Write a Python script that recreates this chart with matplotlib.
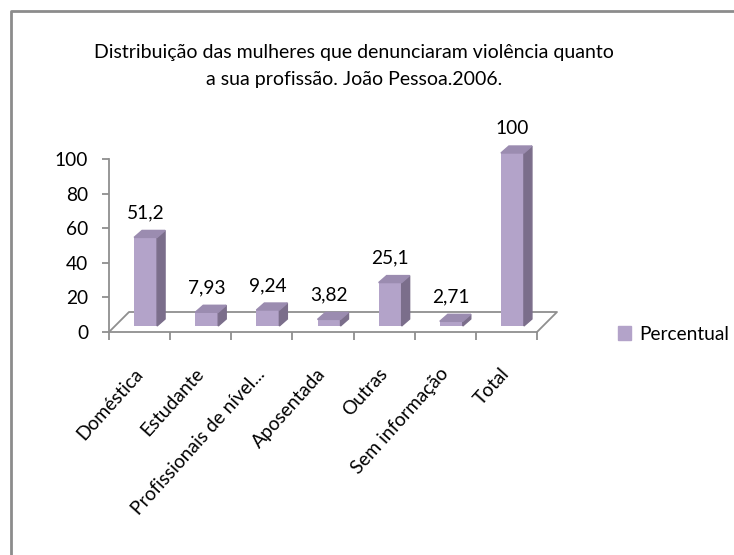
import matplotlib.pyplot as plt
from matplotlib import font_manager
from matplotlib.lines import Line2D
from matplotlib.patches import Polygon, Patch

categorias = ["Doméstica", "Estudante", "Profissionais de nível...", "Aposentada",
              "Outras", "Sem informação", "Total"]
percentual = [51.2, 7.93, 9.24, 3.82, 25.1, 2.71, 100]
rotulos = ["51,2", "7,93", "9,24", "3,82", "25,1", "2,71", "100"]
titulo = ("Distribuição das mulheres que denunciaram violência quanto\n"
          "a sua profissão. João Pessoa.2006.")


def pick_font(names):
    for n in names:
        try:
            font_manager.findfont(n, fallback_to_default=False)
            return n
        except Exception:
            pass
    return "DejaVu Sans"


fam = pick_font(["Liberation Sans Narrow", "Lato", "Open Sans"])
plt.rcParams["font.family"] = [fam, "DejaVu Sans"]
fs = 15 if fam == "Liberation Sans Narrow" else 13.8

FRONT = "#b3a3c9"
SIDE = "#7b6e8b"
TOP = "#9b8cb0"
GRID = "#8f8f8f"

W, H = 734, 555
fig = plt.figure(figsize=(W / 100, H / 100), dpi=100)
ax = fig.add_axes([109 / W, (H - 332) / H, (537 - 109) / W, (332 - 159) / H])
n = len(categorias)
ax.set_xlim(0, n)
ax.set_ylim(0, 100)

# pixel -> data unit helpers for the fake 3d depth
px_x = n / (537 - 109)
px_y = 100 / (332 - 159)
floor_dx, floor_dy = 20 * px_x, 20 * px_y
off_dx, off_dy = 6 * px_x, 6 * px_y
depth_dx, depth_dy = 8 * px_x, 7 * px_y
bw = 23 * px_x

# floor outline
ax.plot([0, floor_dx, n + floor_dx, n], [0, floor_dy, floor_dy, 0],
        color=GRID, lw=1.3, clip_on=False, zorder=1)

for i, (v, lab) in enumerate(zip(percentual, rotulos)):
    xc = i + 0.5 + off_dx
    xl, xr = xc - bw / 2, xc + bw / 2
    y0, y1 = off_dy, off_dy + v
    ax.bar(xc, v, width=bw, bottom=y0, color=FRONT, zorder=3, clip_on=False)
    ax.add_patch(Polygon([(xr, y0), (xr + depth_dx, y0 + depth_dy),
                          (xr + depth_dx, y1 + depth_dy), (xr, y1)],
                         closed=True, color=SIDE, zorder=3, clip_on=False))
    ax.add_patch(Polygon([(xl, y1), (xl + depth_dx, y1 + depth_dy),
                          (xr + depth_dx, y1 + depth_dy), (xr, y1)],
                         closed=True, color=TOP, zorder=3, clip_on=False))
    ax.annotate(lab, (xc, y1), xytext=(0, 17.5), textcoords="offset points",
                ha="center", va="center", fontsize=fs, annotation_clip=False)

for s in ["top", "right"]:
    ax.spines[s].set_visible(False)
for s in ["left", "bottom"]:
    ax.spines[s].set_color(GRID)
    ax.spines[s].set_linewidth(1.3)

ax.set_yticks([0, 20, 40, 60, 80, 100])
ax.tick_params(axis="y", direction="out", length=5, color=GRID, width=1.3,
               labelsize=fs, pad=10)
ax.set_xticks(range(n + 1))
ax.set_xticklabels([])
ax.set_xticks([i + 0.5 for i in range(n)], minor=True)
ax.set_xticklabels(categorias, minor=True, rotation=48, ha="right",
                   va="center", rotation_mode="anchor", fontsize=fs)
ax.tick_params(axis="x", which="major", direction="out", length=6,
               color=GRID, width=1.3)
ax.tick_params(axis="x", which="minor", length=0, pad=28)

fig.text(354 / W, 1 - 66 / H, titulo, ha="center", va="center",
         fontsize=fs + 0.2, linespacing=1.7)

fig.legend(handles=[Patch(color=FRONT)], labels=["Percentual"],
           loc="center left", bbox_to_anchor=(618 / W, 1 - 334 / H),
           frameon=False, handlelength=0.7, handleheight=0.7,
           handletextpad=0.4, borderpad=0, borderaxespad=0, fontsize=fs)

# chart area border (only left and top edges are visible in the crop)
bx, by = 10.5 / W, 1 - 10.5 / H
fig.add_artist(Line2D([bx, bx, 1.01], [-0.01, by, by], color="#8c8c8c",
                      lw=2, transform=fig.transFigure))

fig.savefig("out.png", dpi=100)
